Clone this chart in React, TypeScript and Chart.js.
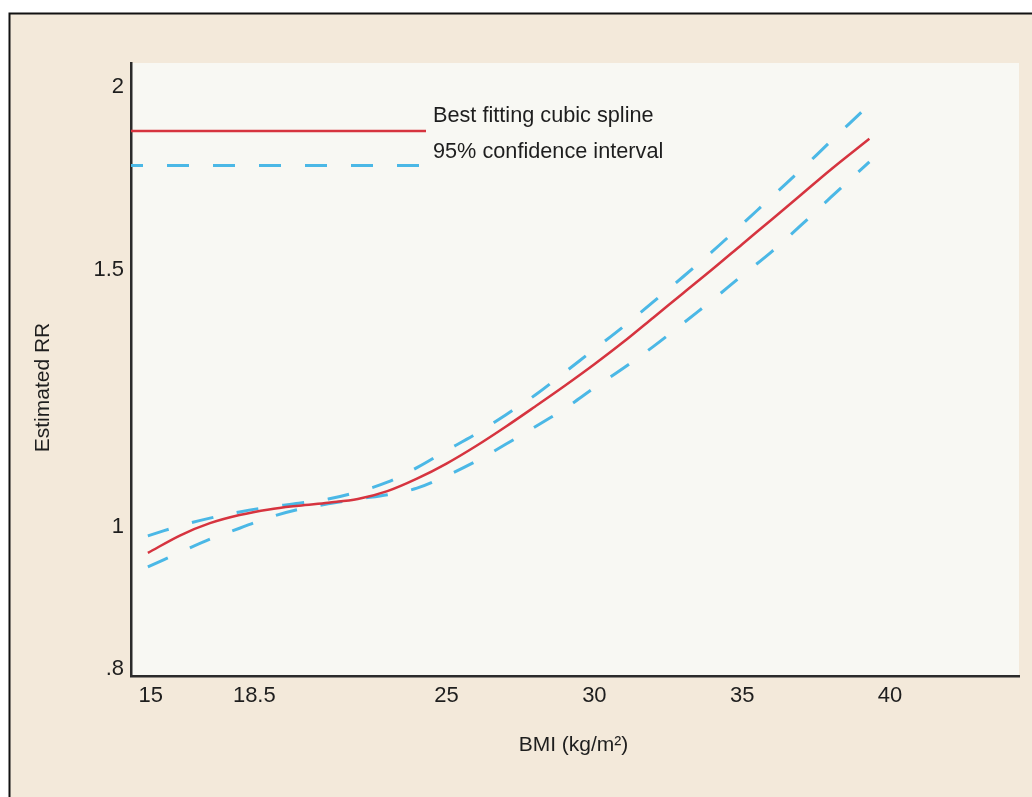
import React, { useEffect, useRef } from "react";
import { Chart, registerables } from "chart.js";

Chart.register(...registerables);

// BMI grid the spline was evaluated on
const bmi = [14.9, 16, 17, 18, 19, 20, 21, 22, 23, 24, 25, 26, 27, 28, 29, 30, 31, 32, 33, 34, 35, 36, 37, 38, 39.3];

// Best fitting cubic spline (estimated RR)
const spline = [0.960, 0.987, 1.006, 1.019, 1.028, 1.034, 1.039, 1.045, 1.058, 1.079, 1.105, 1.136, 1.171, 1.209, 1.249, 1.292, 1.339, 1.391, 1.445, 1.501, 1.561, 1.623, 1.688, 1.756, 1.843];

// 95% confidence interval bounds
const upper = [0.986, 1.002, 1.014, 1.024, 1.032, 1.038, 1.045, 1.057, 1.073, 1.098, 1.128, 1.158, 1.193, 1.231, 1.276, 1.323, 1.372, 1.426, 1.483, 1.544, 1.611, 1.682, 1.756, 1.836, 1.945];
const lower = [0.939, 0.961, 0.981, 0.998, 1.015, 1.028, 1.037, 1.045, 1.052, 1.063, 1.084, 1.109, 1.139, 1.171, 1.205, 1.245, 1.285, 1.329, 1.378, 1.430, 1.486, 1.543, 1.609, 1.681, 1.777];

// Axis ticks
const xTicks = [15, 18.5, 25, 30, 35, 40];
const yTicks = [0.8, 1, 1.5, 2];
const yTickLabels = [".8", "1", "1.5", "2"];

const legendLabels = ["Best fitting cubic spline", "95% confidence interval"];
const xTitle = "BMI (kg/m\u00B2)";
const yTitle = "Estimated RR";

const RED = "#d6343f";
const BLUE = "#4bb8e6";
const PAGE_BG = "#f3e9da";
const PLOT_BG = "#f8f8f3";
const INK = "#1e1e1e";
const FONT = "'Liberation Sans', Arial, Helvetica, sans-serif";
const DASH = [22, 24];

const backdropPlugin = {
  id: "backdrop",
  beforeDraw(chart: any) {
    const { ctx, chartArea: a, width, height } = chart;
    ctx.save();
    ctx.fillStyle = "#ffffff";
    ctx.fillRect(0, 0, width, height);
    ctx.fillStyle = PAGE_BG;
    ctx.fillRect(9, 13, width - 9, height - 13);
    ctx.strokeStyle = "#111111";
    ctx.lineWidth = 2;
    ctx.beginPath();
    ctx.moveTo(9.5, height);
    ctx.lineTo(9.5, 13.5);
    ctx.lineTo(width, 13.5);
    ctx.stroke();
    ctx.fillStyle = PLOT_BG;
    ctx.fillRect(a.left, a.top, a.right - a.left, a.bottom - a.top);
    ctx.restore();
  },
};

const annotationPlugin = {
  id: "annotations",
  afterDatasetsDraw(chart: any) {
    const { ctx, chartArea: a } = chart;
    ctx.save();
    // legend keys
    const keyEnd = a.left + 295;
    ctx.lineWidth = 2.5;
    ctx.strokeStyle = RED;
    ctx.beginPath();
    ctx.moveTo(a.left, a.top + 68);
    ctx.lineTo(keyEnd, a.top + 68);
    ctx.stroke();
    ctx.lineWidth = 3;
    ctx.strokeStyle = BLUE;
    ctx.setLineDash(DASH);
    ctx.lineDashOffset = 10;
    ctx.beginPath();
    ctx.moveTo(a.left, a.top + 102.5);
    ctx.lineTo(keyEnd, a.top + 102.5);
    ctx.stroke();
    ctx.setLineDash([]);
    ctx.fillStyle = INK;
    ctx.font = `21.7px ${FONT}`;
    ctx.textAlign = "left";
    ctx.textBaseline = "alphabetic";
    ctx.fillText(legendLabels[0], keyEnd + 7, a.top + 58.5);
    ctx.fillText(legendLabels[1], keyEnd + 7, a.top + 94.5);

    // axis titles
    ctx.font = `21px ${FONT}`;
    ctx.textAlign = "center";
    ctx.textBaseline = "middle";
    ctx.fillText(xTitle, 573.5, 745);
    ctx.translate(43.5, 387.5);
    ctx.rotate(-Math.PI / 2);
    ctx.fillText(yTitle, 0, 0);
    ctx.restore();
  },
};

export default function App() {
  const canvasRef = useRef<HTMLCanvasElement | null>(null);

  useEffect(() => {
    document.body.style.margin = "0";
    const canvas = canvasRef.current;
    if (!canvas) return;

    const toPoints = (ys: number[]) => bmi.map((x, i) => ({ x, y: ys[i] }));
    const tickFont = { family: FONT, size: 22 };

    const lineStyle = { pointRadius: 0, tension: 0.35 };

    const chart = new Chart(canvas, {
      type: "line",
      data: {
        datasets: [
          {
            label: legendLabels[0],
            data: toPoints(spline),
            borderColor: RED,
            borderWidth: 2.5,
            ...lineStyle,
            order: 0,
          },
          {
            label: legendLabels[1],
            data: toPoints(upper),
            borderColor: BLUE,
            borderWidth: 3,
            borderDash: DASH,
            ...lineStyle,
            order: 1,
          },
          {
            label: "lower",
            data: toPoints(lower),
            borderColor: BLUE,
            borderWidth: 3,
            borderDash: DASH,
            ...lineStyle,
            order: 1,
          },
        ],
      },
      options: {
        animation: false,
        responsive: false,
        events: [],
        layout: { padding: { left: 0, top: 63, right: 13, bottom: 0 } },
        plugins: {
          legend: { display: false },
          tooltip: { enabled: false },
          title: { display: false },
        },
        scales: {
          x: {
            type: "linear",
            min: 14.33,
            max: 44.36,
            afterBuildTicks: (s: any) => {
              s.ticks = xTicks.map((v) => ({ value: v }));
            },
            afterFit: (s: any) => {
              s.height = 121;
            },
            ticks: {
              font: tickFont,
              color: INK,
              padding: 7,
              maxRotation: 0,
              autoSkip: false,
              callback: (v: any) => String(v),
            },
            grid: { display: false, drawTicks: false },
            border: { display: true, color: "#2b2b2b", width: 2.5 },
          },
          y: {
            type: "logarithmic",
            min: 0.7908,
            max: 2.0765,
            afterBuildTicks: (s: any) => {
              s.ticks = yTicks.map((v) => ({ value: v }));
            },
            afterFit: (s: any) => {
              s.width = 131;
            },
            ticks: {
              font: tickFont,
              color: INK,
              padding: 7,
              autoSkip: false,
              callback: (v: any) => {
                const i = yTicks.indexOf(Number(v));
                return i >= 0 ? yTickLabels[i] : "";
              },
            },
            grid: { display: false, drawTicks: false },
            border: { display: true, color: "#2b2b2b", width: 2.5 },
          },
        },
      },
      plugins: [backdropPlugin, annotationPlugin],
    });

    return () => chart.destroy();
  }, []);

  return (
    <div style={{ width: 1032, height: 797 }}>
      <canvas ref={canvasRef} width={1032} height={797} style={{ display: "block" }} />
    </div>
  );
}
